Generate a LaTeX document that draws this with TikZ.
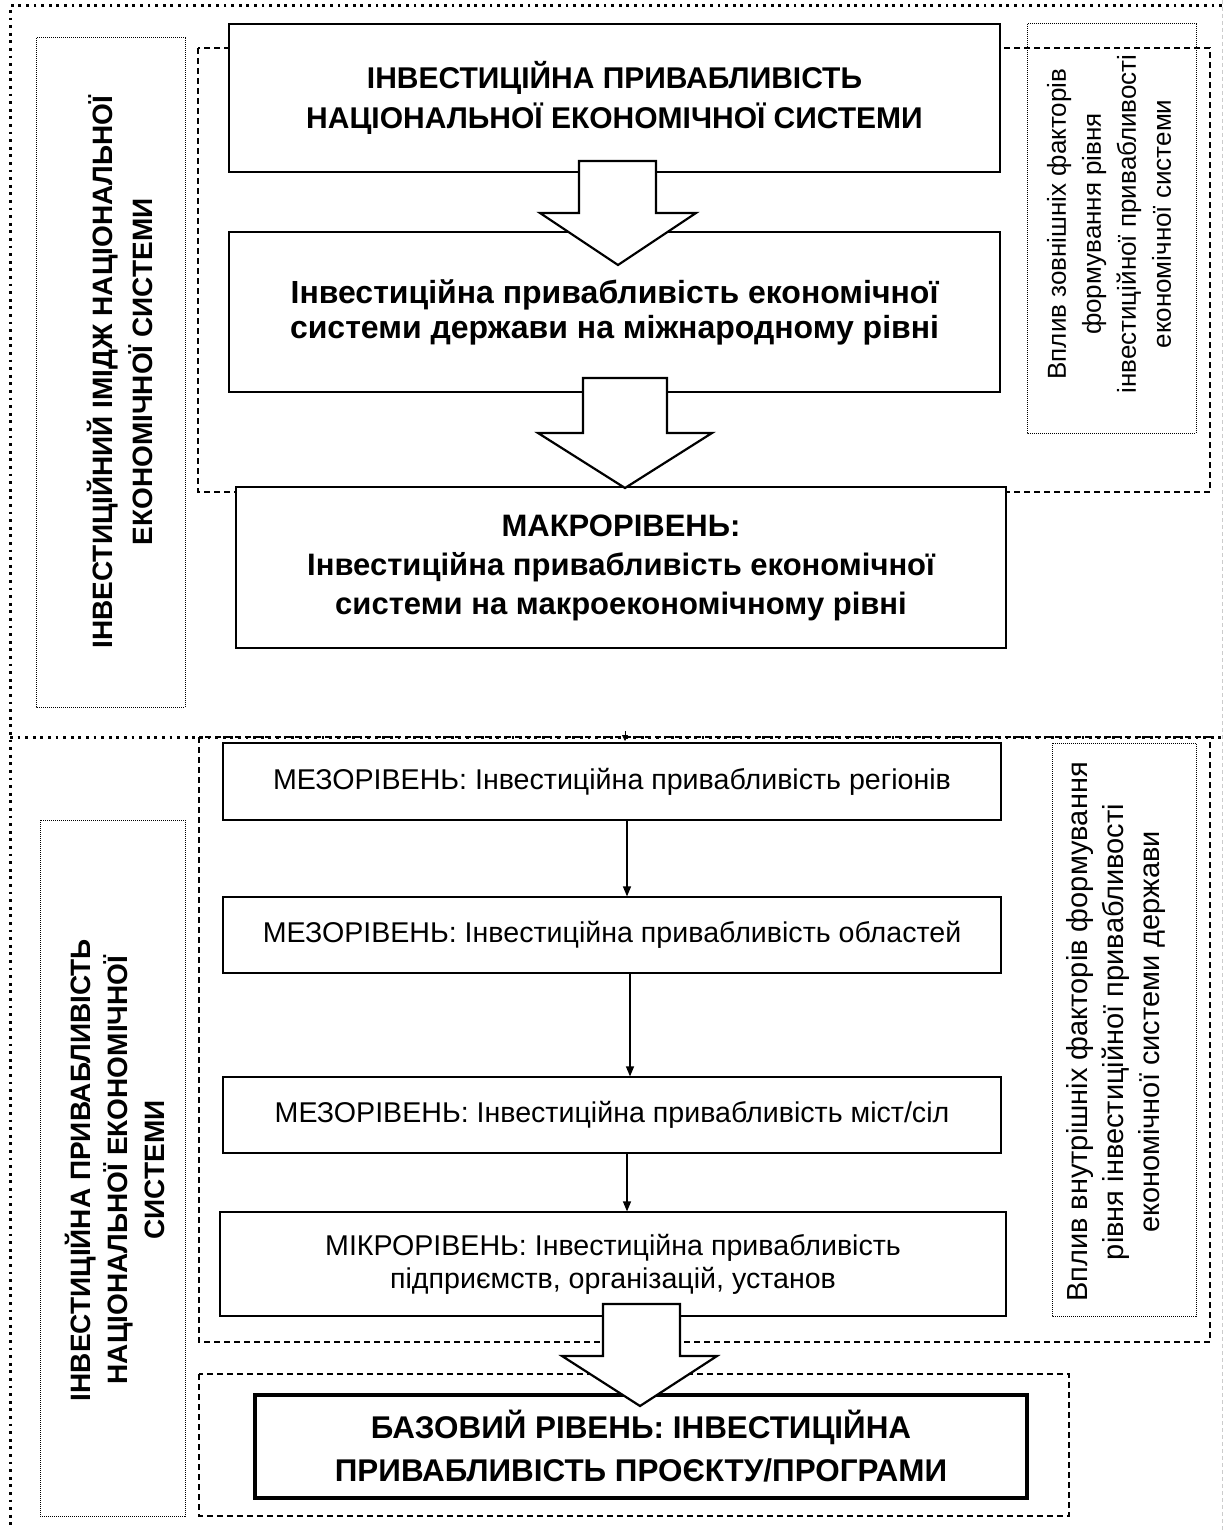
\documentclass[tikz,border=0pt]{standalone}
\usepackage{fontspec}
\setmainfont{Liberation Sans}
\usetikzlibrary{arrows.meta}
\begin{document}
\begin{tikzpicture}[x=0.5pt,y=-0.5pt,
  boxbase/.style={draw, fill=white, align=center, inner sep=0pt},
  bigbox/.style={boxbase, line width=1.3pt},
  mezobox/.style={boxbase, line width=0.6pt, font=\fontsize{14.3}{16.5}\selectfont},
  basebox/.style={boxbase, line width=1.7pt, font=\bfseries\fontsize{15.7}{21.5}\selectfont},
  finedot/.style={draw, line width=0.5pt, dash pattern=on 0.5pt off 0.5pt},
  dashrect/.style={draw, line width=0.6pt, dash pattern=on 3pt off 2pt},
  bigdot/.style={line width=1.5pt, dash pattern=on 1.4pt off 2.4pt},
  blockarrow/.style={draw, line width=1.1pt, fill=white, line join=miter},
  conn/.style={line width=0.6pt, -{Triangle[length=5pt,width=4pt]}},
  vtextb/.style={rotate=90, align=center, inner sep=0pt},
  vtext/.style={rotate=90, align=center, inner sep=0pt}
]
\useasboundingbox (0,0) rectangle (1224,1530);

% page edge
\draw[gray!40, line width=0.4pt, dash pattern=on 2pt off 1.5pt] (1222,0) -- (1222,1530);

% dashed group rectangles
\draw[dashrect] (198,48) rectangle (1210,492);
\draw[dashrect] (199,737) rectangle (1210,1342);
\draw[dashrect] (199,1374) rectangle (1069,1516);

% fine dotted side boxes
\draw[finedot] (36,38) rectangle (185,707);
\draw[finedot] (40,820) rectangle (185,1516);
\draw[finedot] (1027,24) rectangle (1196,433);
\draw[finedot] (1052,743) rectangle (1196,1316);

% outer dotted frame
\draw[bigdot] (1222,6) -- (10,6) -- (10,1530);
\draw[bigdot] (10,737) -- (1222,737);

% upper boxes
\node[bigbox, font=\bfseries\fontsize{15}{20}\selectfont,
  minimum width=385.5pt, minimum height=74pt] (b1) at (614.5,98)
  {ІНВЕСТИЦІЙНА ПРИВАБЛИВІСТЬ\\НАЦІОНАЛЬНОЇ ЕКОНОМІЧНОЇ СИСТЕМИ};
\node[bigbox, font=\bfseries\fontsize{16}{17.5}\selectfont,
  minimum width=385.5pt, minimum height=80pt] (b2) at (614.5,312)
  {Інвестиційна привабливість економічної\\системи держави на міжнародному рівні};
\node[bigbox, font=\bfseries\fontsize{15.5}{19.5}\selectfont,
  minimum width=385pt, minimum height=80.5pt] (b3) at (621,567.5)
  {МАКРОРІВЕНЬ:\\Інвестиційна привабливість економічної\\системи на макроекономічному рівні};

% block arrows
\draw[blockarrow] (579,161) -- (656,161) -- (656,213) -- (696,213) -- (618,265)
  -- (540,213) -- (579,213) -- cycle;
\draw[blockarrow] (583,378) -- (667,378) -- (667,433) -- (712,433) -- (625,488)
  -- (538,433) -- (583,433) -- cycle;

% lower boxes
\node[mezobox, minimum width=389pt, minimum height=38.5pt] (m1) at (612,781.5)
  {МЕЗОРІВЕНЬ: Інвестиційна привабливість регіонів};
\node[mezobox, minimum width=389pt, minimum height=38pt] (m2) at (612,935)
  {МЕЗОРІВЕНЬ: Інвестиційна привабливість областей};
\node[mezobox, minimum width=389pt, minimum height=38pt] (m3) at (612,1115)
  {МЕЗОРІВЕНЬ: Інвестиційна привабливість міст/сіл};
\node[mezobox, minimum width=393pt, minimum height=52pt] (m4) at (613,1264)
  {МІКРОРІВЕНЬ: Інвестиційна привабливість\\підприємств, організацій, установ};

\node[basebox, minimum width=386pt, minimum height=51.5pt] (b5) at (641,1446.5)
  {БАЗОВИЙ РІВЕНЬ: ІНВЕСТИЦІЙНА\\ПРИВАБЛИВІСТЬ ПРОЄКТУ/ПРОГРАМИ};

% thin connectors
\coordinate (ax1) at (627,0);
\coordinate (ax2) at (630,0);
\draw[conn] (m1.south -| ax1) -- (m2.north -| ax1);
\draw[conn] (m2.south -| ax2) -- (m3.north -| ax2);
\draw[conn] (m3.south -| ax1) -- (m4.north -| ax1);

% small mark on separator
\coordinate (s1) at (625,731);
\coordinate (s2) at (625,741);
\draw[line width=0.4pt, -{Triangle[length=3pt,width=3pt]}] (s1) -- (s2);

% bottom block arrow
\draw[blockarrow] (603,1304) -- (680,1304) -- (680,1356) -- (717,1356) -- (640,1406)
  -- (562,1356) -- (603,1356) -- cycle;

% side texts
\node[vtextb, font=\bfseries\fontsize{14}{20}\selectfont] (lt1) at (120,372)
  {ІНВЕСТИЦІЙНИЙ ІМІДЖ НАЦІОНАЛЬНОЇ\\ЕКОНОМІЧНОЇ СИСТЕМИ};
\node[vtextb, font=\bfseries\fontsize{14}{18.5}\selectfont] (lt2) at (115,1170)
  {ІНВЕСТИЦІЙНА ПРИВАБЛИВІСТЬ\\НАЦІОНАЛЬНОЇ ЕКОНОМІЧНОЇ\\СИСТЕМИ};
\node[vtext, font=\fontsize{13}{17.5}\selectfont] (rt1) at (1109,224)
  {Вплив зовнішніх факторів\\формування рівня\\інвестиційної привабливості\\економічної системи};
\node[vtext, font=\fontsize{14.5}{18}\selectfont] (rt2) at (1116,1032)
  {Вплив внутрішніх факторів формування\\рівня інвестиційної привабливості\\економічної системи держави};
\end{tikzpicture}
\end{document}
